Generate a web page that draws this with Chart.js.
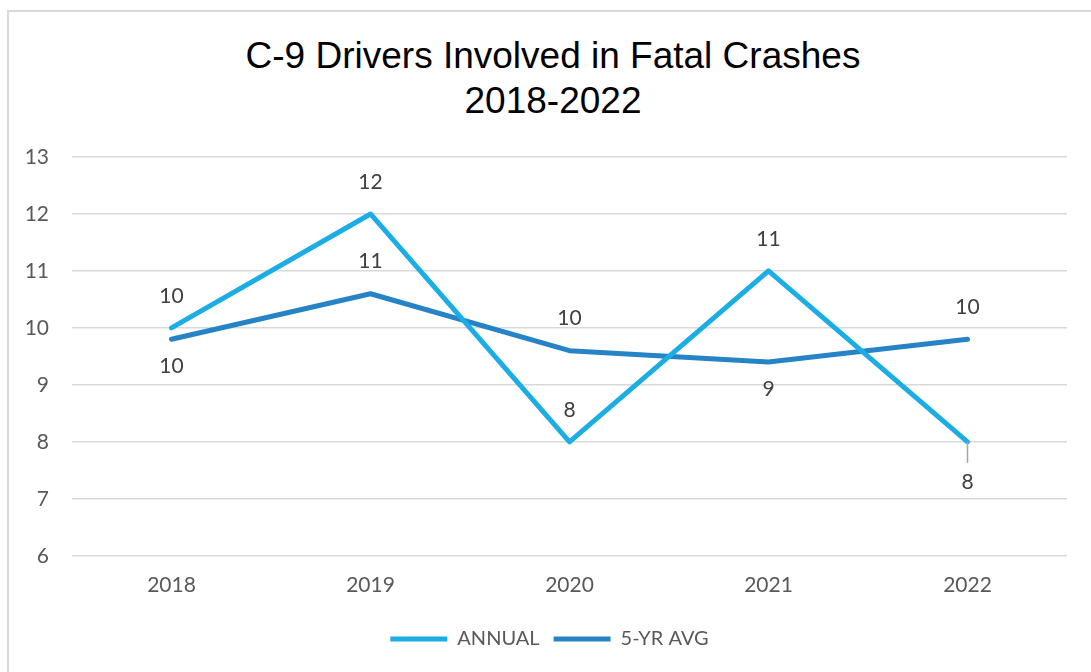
<!DOCTYPE html>
<html>
<head>
<meta charset="utf-8">
<script src="https://cdn.jsdelivr.net/npm/chart.js@4.4.0/dist/chart.umd.min.js"></script>
<style>
  html, body { margin: 0; padding: 0; background: #fff; }
  body { width: 1091px; height: 672px; overflow: hidden; position: relative; }
  .frame { position: absolute; left: 7px; top: 10px; width: 1200px; height: 800px;
           border-left: 2px solid #d9d9d9; border-top: 2px solid #d9d9d9; }
  .title { position: absolute; left: 0; top: 33px; width: 1106px; text-align: center;
           font-family: 'Liberation Sans', Arial, sans-serif; font-size: 37px; line-height: 45px; color: #000; }
  .wrap { position: absolute; left: 0; top: 0; width: 1091px; height: 672px; }
</style>
</head>
<body>
<div class="frame"></div>
<div class="title">C-9 Drivers Involved in Fatal Crashes<br>2018-2022</div>
<div class="wrap"><canvas id="lineChart"></canvas></div>
<script>
// chart data
var years = ['2018', '2019', '2020', '2021', '2022'];
var annual = [10, 12, 8, 11, 8];
var fiveYrAvg = [9.8, 10.6, 9.6, 9.4, 9.8];
var annualLabelPos = ['above', 'above', 'above', 'above', 'leader'];
var avgLabelPos = ['below', 'above', 'above', 'below', 'above'];

// draws the value labels next to each point
var pointLabels = {
    id: 'pointLabels',
    afterDatasetsDraw: function (chart) {
        var ctx = chart.ctx;
        ctx.save();
        ctx.font = '21px Lato';
        ctx.textAlign = 'center';
        ctx.textBaseline = 'middle';
        chart.data.datasets.forEach(function (ds, i) {
            var meta = chart.getDatasetMeta(i);
            meta.data.forEach(function (pt, j) {
                var pos = ds.labelPos[j];
                var y;
                if (pos === 'above') {
                    y = pt.y - 32;
                } else if (pos === 'below') {
                    y = pt.y + 27;
                } else {
                    ctx.strokeStyle = '#a6a6a6';
                    ctx.lineWidth = 1.5;
                    ctx.beginPath();
                    ctx.moveTo(pt.x, pt.y);
                    ctx.lineTo(pt.x, pt.y + 21);
                    ctx.stroke();
                    y = pt.y + 40;
                }
                ctx.fillStyle = '#404040';
                ctx.fillText(String(Math.round(ds.data[j])), pt.x, y);
            });
        });
        ctx.restore();
    }
};

// nudge the legend a little left so it sits under the middle of the frame
var legendShift = {
    id: 'legendShift',
    afterLayout: function (chart) {
        chart.legend.left -= 20;
        chart.legend.right -= 20;
    }
};

var ctx = document.getElementById('lineChart').getContext('2d');

var data = {
    labels: years,
    datasets: [{
        label: 'ANNUAL',
        data: annual,
        labelPos: annualLabelPos,
        borderColor: '#1CADE4',
        backgroundColor: '#1CADE4',
        borderWidth: 5,
        borderCapStyle: 'round',
        borderJoinStyle: 'round',
        pointRadius: 0,
        tension: 0
    }, {
        label: '5-YR AVG',
        data: fiveYrAvg,
        labelPos: avgLabelPos,
        borderColor: '#2683C6',
        backgroundColor: '#2683C6',
        borderWidth: 5,
        borderCapStyle: 'round',
        borderJoinStyle: 'round',
        pointRadius: 0,
        tension: 0
    }]
};

var options = {
    responsive: true,
    maintainAspectRatio: false,
    animation: false,
    layout: {
        padding: { left: 0, right: 24, top: 157, bottom: 13 }
    },
    scales: {
        x: {
            offset: true,
            grid: { display: false, drawTicks: false },
            border: { display: false },
            ticks: { color: '#595959', font: { family: 'Lato', size: 21 }, padding: 17 }
        },
        y: {
            min: 6,
            max: 13,
            afterFit: function (scale) { scale.width = 72; },
            grid: { color: '#d9d9d9', lineWidth: 1.5, drawTicks: false },
            border: { display: false },
            ticks: { stepSize: 1, color: '#595959', font: { family: 'Lato', size: 21 }, padding: 23 }
        }
    },
    plugins: {
        title: { display: false },
        legend: {
            position: 'bottom',
            fullSize: false,
            labels: {
                usePointStyle: true,
                pointStyle: 'line',
                pointStyleWidth: 57,
                color: '#595959',
                font: { family: 'Lato', size: 20 },
                padding: 14
            }
        },
        tooltip: { enabled: false }
    }
};

var myChart = new Chart(ctx, {
    type: 'line',
    data: data,
    options: options,
    plugins: [pointLabels, legendShift]
});
</script>
</body>
</html>
